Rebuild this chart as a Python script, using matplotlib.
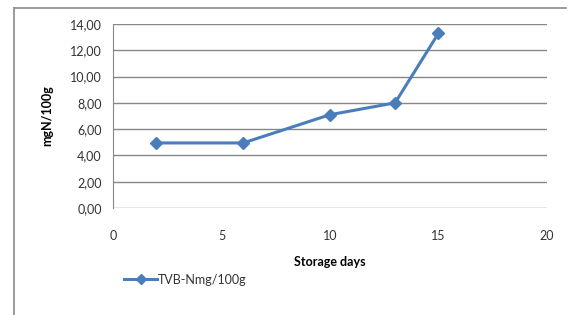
import matplotlib.pyplot as plt
from matplotlib.lines import Line2D
from matplotlib.ticker import FuncFormatter, MultipleLocator

# dados
dias = [2, 6, 10, 13, 15]
tvb_n = [4.95, 4.95, 7.1, 8.0, 13.3]
serie = 'TVB-Nmg/100g'

plt.rcParams['font.family'] = ['Lato', 'DejaVu Sans']

fig = plt.figure(figsize=(5.69, 3.15), dpi=100)
ax = fig.add_axes([0.1986, 0.3397, 0.7627, 0.584])

# moldura externa (só topo e esquerda visíveis)
fig.add_artist(Line2D([14 / 569, 566 / 569], [1 - 8 / 315, 1 - 8 / 315],
                      transform=fig.transFigure, color='#8a8a8a', lw=1.2))
fig.add_artist(Line2D([14 / 569, 14 / 569], [0, 1 - 8 / 315],
                      transform=fig.transFigure, color='#8a8a8a', lw=1.2))

ax.plot(dias, tvb_n, color='#4a7ebb', lw=2.2, marker='D', markersize=6,
        label=serie, zorder=3)

ax.set_xlim(0, 20)
ax.set_ylim(0, 14)
ax.xaxis.set_major_locator(MultipleLocator(5))
ax.yaxis.set_major_locator(MultipleLocator(2))
ax.yaxis.set_major_formatter(FuncFormatter(lambda v, p: f'{v:.2f}'.replace('.', ',')))

ax.grid(axis='y', color='#878787', lw=1)
ax.set_axisbelow(True)
for s in ['top', 'right', 'bottom']:
    ax.spines[s].set_visible(False)
ax.spines['left'].set_color('#878787')
ax.tick_params(length=0, labelsize=9, colors='#333333')
ax.tick_params(axis='x', pad=16)
ax.tick_params(axis='y', pad=8)

ax.set_xlabel('Storage days', fontsize=9, fontweight='bold', labelpad=10)
ax.set_ylabel('mgN/100g', fontsize=9, fontweight='bold', labelpad=12)

ax.legend(loc='upper left', bbox_to_anchor=(0.0, -0.295), frameon=False,
          fontsize=9, handlelength=2.6, handletextpad=0.1, markerscale=0.8,
          labelcolor='#333333')

fig.savefig('out.png', dpi=100)
